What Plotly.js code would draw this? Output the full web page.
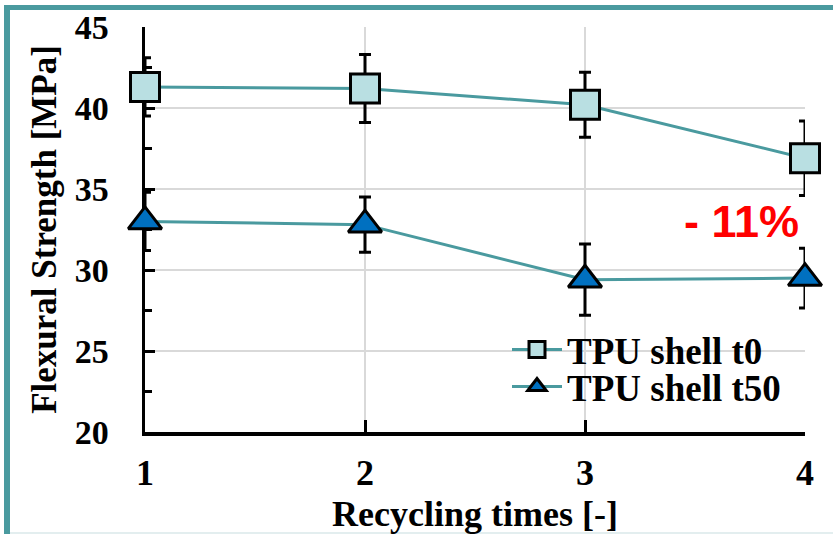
<!DOCTYPE html>
<html>
<head>
<meta charset="utf-8">
<script src="https://cdn.plot.ly/plotly-3.0.1.min.js"></script>
<style>
  html, body { margin: 0; padding: 0; background: #ffffff; }
  #chart { width: 833px; height: 534px; }
</style>
</head>
<body>
<div id="chart"></div>
<script>
// Flexural strength of TPU shell specimens versus number of recycling passes
const recyclingTimes = [1, 2, 3, 4];
const xTickLabels = ['1', '2', '3', '4'];

const seriesNames = ['TPU shell t0', 'TPU shell t50'];
const strengthT0 = [41.3, 41.2, 40.2, 36.9];
const errorT0 = [1.8, 2.1, 2.0, 2.3];
const strengthT50 = [33.0, 32.8, 29.4, 29.5];
const errorT50 = [1.8, 1.7, 2.2, 1.85];

const dropLabel = '- 11%';

const serif = 'Liberation Serif, Times New Roman, serif';
const teal = '#4a9a9f';

// plot area in pixels, used to place the frame and legends
const M = { l: 145, r: 28, t: 27, b: 102 };
const W = 833, H = 534;
const pw = W - M.l - M.r, ph = H - M.t - M.b;
const px = v => (v - M.l) / pw;
const py = v => (H - M.b - v) / ph;

const errStyle = { type: 'data', visible: true, color: '#000000', thickness: 3, width: 6 };

const traces = [
  {
    x: recyclingTimes, y: strengthT0, name: seriesNames[0],
    type: 'scatter', mode: 'lines+markers', cliponaxis: false,
    line: { color: teal, width: 3 },
    marker: { symbol: 'square', size: 29, color: '#b9dfe2', line: { color: '#000000', width: 3 } },
    error_y: Object.assign({ array: errorT0 }, errStyle),
    legend: 'legend'
  },
  {
    x: recyclingTimes, y: strengthT50, name: seriesNames[1],
    type: 'scatter', mode: 'lines+markers', cliponaxis: false,
    line: { color: teal, width: 3 },
    marker: { symbol: 'triangle-up', size: 29, color: '#0070c0', line: { color: '#000000', width: 3 } },
    error_y: Object.assign({ array: errorT50 }, errStyle),
    legend: 'legend2'
  }
];

const legendFont = { family: serif, size: 37, color: '#000000', weight: 700 };

const layout = {
  width: W, height: H,
  margin: { l: M.l, r: M.r, t: M.t, b: M.b, pad: 0 },
  paper_bgcolor: '#ffffff', plot_bgcolor: '#ffffff',
  font: { family: serif, color: '#000000' },
  showlegend: true,
  legend: {
    x: px(507), y: py(350), xanchor: 'left', yanchor: 'middle',
    bgcolor: 'rgba(0,0,0,0)', borderwidth: 0, font: legendFont, itemwidth: 50
  },
  legend2: {
    x: px(507), y: py(387), xanchor: 'left', yanchor: 'middle',
    bgcolor: 'rgba(0,0,0,0)', borderwidth: 0, font: legendFont, itemwidth: 50
  },
  xaxis: {
    range: [1, 4], tickvals: recyclingTimes, ticktext: xTickLabels,
    ticks: 'inside', ticklen: 12, tickwidth: 3, tickcolor: '#000000',
    showline: true, linewidth: 3.5, linecolor: '#000000',
    showgrid: true, gridcolor: '#d9d9d9', gridwidth: 2, zeroline: false,
    layer: 'below traces',
    tickfont: { family: serif, size: 36, color: '#000000', weight: 700 },
    ticklabelstandoff: 6,
    automargin: false,
    title: { text: 'Recycling times [-]', standoff: 12,
             font: { family: serif, size: 36, color: '#000000', weight: 700 } }
  },
  yaxis: {
    range: [20, 45], tick0: 20, dtick: 5,
    ticks: 'inside', ticklen: 10, tickwidth: 3, tickcolor: '#000000',
    minor: { dtick: 2.5, ticks: 'inside', ticklen: 7, tickwidth: 3, tickcolor: '#000000', showgrid: false },
    showline: true, linewidth: 3.5, linecolor: '#000000',
    showgrid: true, gridcolor: '#d9d9d9', gridwidth: 2, zeroline: false,
    layer: 'below traces',
    tickfont: { family: serif, size: 34, color: '#000000', weight: 700 },
    ticklabelstandoff: 26,
    automargin: false,
    title: { text: 'Flexural Strength [MPa]', standoff: 8,
             font: { family: serif, size: 35, color: '#000000', weight: 700 } }
  },
  annotations: [
    {
      x: 3.71, y: 33.0, xref: 'x', yref: 'y', text: dropLabel, showarrow: false,
      xanchor: 'center', yanchor: 'middle',
      font: { family: 'Liberation Sans, Arial, sans-serif', size: 45, color: '#ff0000', weight: 700 }
    }
  ],
  shapes: [
    // teal frame: left and top edges
    { type: 'rect', xref: 'paper', yref: 'paper', x0: px(4), x1: px(10), y0: py(536), y1: py(5),
      fillcolor: teal, line: { width: 0 } },
    { type: 'rect', xref: 'paper', yref: 'paper', x0: px(4), x1: px(840), y0: py(10), y1: py(5),
      fillcolor: teal, line: { width: 0 } },
    { type: 'rect', xref: 'paper', yref: 'paper', x0: px(10), x1: px(840), y0: py(534), y1: py(532),
      fillcolor: '#e3eeef', line: { width: 0 } }
  ]
};

Plotly.newPlot('chart', traces, layout, { displayModeBar: false, staticPlot: true });
</script>
</body>
</html>
